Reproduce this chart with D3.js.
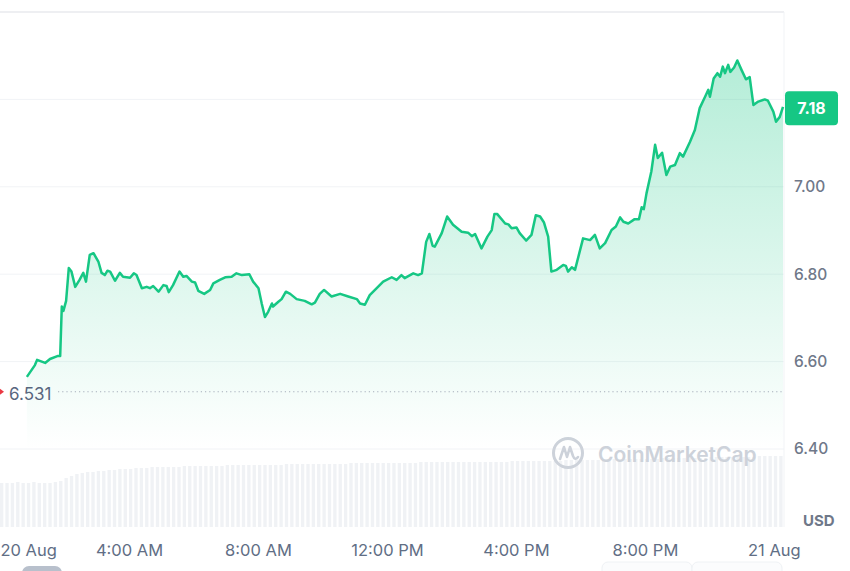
<!DOCTYPE html>
<html>
<head>
<meta charset="utf-8">
<style>
  body { margin: 0; background: #fff; overflow: hidden; }
  #chart text { font-family: Inter, "Noto Sans", sans-serif; }
</style>
<script src="https://cdn.jsdelivr.net/npm/d3@7"></script>
</head>
<body>
<svg id="chart"></svg>
<script>
// minutes after 20 Aug 00:00
var priceMinutes = [50, 65, 69, 84, 93, 108, 112, 115, 118, 123, 128, 133, 140, 148, 155, 160, 167, 174, 183, 189,
  195, 200, 205, 214, 223, 229, 242, 249, 254, 264, 273, 279, 285, 295, 304, 310, 314, 322, 334, 341,
  347, 357, 363, 369, 380, 391, 397, 409, 419, 431, 440, 450, 464, 471, 481, 487, 493, 499, 506, 508,
  518, 524, 532, 540, 552, 567, 580, 586, 595, 603, 617, 633, 648, 664, 670, 679, 688, 701, 713, 729,
  738, 747, 753, 769, 778, 785, 793, 799, 805, 809, 822, 832, 843, 859, 871, 878, 884, 896, 907, 915,
  920, 925, 940, 946, 952, 961, 967, 979, 989, 997, 1005, 1012, 1020, 1026, 1036, 1048, 1053, 1057, 1064, 1070,
  1085, 1098, 1107, 1116, 1126, 1138, 1146, 1154, 1160, 1169, 1181, 1189, 1194, 1198, 1203, 1212, 1219, 1224, 1232, 1240,
  1247, 1256, 1265, 1271, 1284, 1293, 1302, 1312, 1318, 1321, 1328, 1335, 1340, 1345, 1349, 1355, 1359, 1366, 1372, 1380,
  1388, 1395, 1402, 1411, 1423, 1429, 1439, 1444, 1451, 1457];
var prices = [6.565, 6.592, 6.604, 6.597, 6.606, 6.613, 6.613, 6.726, 6.716, 6.739, 6.814, 6.806, 6.771, 6.787, 6.803, 6.783, 6.844, 6.848, 6.829, 6.803,
  6.798, 6.808, 6.806, 6.785, 6.803, 6.794, 6.792, 6.802, 6.798, 6.768, 6.771, 6.768, 6.773, 6.760, 6.775, 6.773, 6.759, 6.775, 6.806, 6.794,
  6.796, 6.783, 6.781, 6.762, 6.755, 6.764, 6.779, 6.787, 6.793, 6.794, 6.802, 6.798, 6.800, 6.783, 6.768, 6.733, 6.702, 6.714, 6.733, 6.726,
  6.737, 6.743, 6.760, 6.755, 6.743, 6.739, 6.731, 6.735, 6.755, 6.764, 6.749, 6.755, 6.749, 6.743, 6.733, 6.730, 6.752, 6.768, 6.783, 6.793,
  6.787, 6.798, 6.791, 6.802, 6.798, 6.802, 6.874, 6.892, 6.865, 6.863, 6.894, 6.932, 6.913, 6.897, 6.895, 6.887, 6.892, 6.859, 6.886, 6.901,
  6.938, 6.938, 6.916, 6.914, 6.905, 6.907, 6.894, 6.877, 6.890, 6.935, 6.932, 6.919, 6.886, 6.806, 6.810, 6.821, 6.819, 6.806, 6.816, 6.810,
  6.882, 6.878, 6.890, 6.859, 6.871, 6.901, 6.909, 6.930, 6.920, 6.916, 6.926, 6.926, 6.953, 6.949, 6.985, 7.035, 7.096, 7.066, 7.078, 7.027,
  7.046, 7.050, 7.077, 7.069, 7.103, 7.130, 7.180, 7.206, 7.222, 7.206, 7.248, 7.260, 7.252, 7.275, 7.260, 7.279, 7.263, 7.273, 7.289, 7.267,
  7.246, 7.251, 7.187, 7.195, 7.200, 7.197, 7.172, 7.149, 7.160, 7.183];

// volume, one bar every 10 minutes from 00:00
var volumeStep = 10;
var volumes = [4.4, 4.4, 4.4, 4.5, 4.4, 4.4, 4.5, 4.4, 4.4, 4.4, 4.5,
  4.6, 4.9, 5.1, 5.3, 5.4, 5.5, 5.5, 5.6, 5.6,
  5.7, 5.7, 5.8, 5.8, 5.8, 5.9, 5.9, 5.9, 6.0, 6.0,
  6.0, 6.0, 6.0, 6.0, 6.1, 6.1, 6.1, 6.1, 6.1, 6.1,
  6.1, 6.1, 6.2, 6.2, 6.2, 6.2, 6.2, 6.2, 6.2, 6.2, 6.2, 6.2, 6.2, 6.3, 6.3, 6.3, 6.3, 6.3, 6.3, 6.3,
  6.3, 6.3, 6.3, 6.3, 6.3, 6.4, 6.4, 6.4, 6.4, 6.4, 6.4, 6.4, 6.4, 6.4, 6.4, 6.4, 6.4, 6.4, 6.5, 6.5,
  6.5, 6.5, 6.5, 6.5, 6.5, 6.5, 6.5, 6.5, 6.5, 6.5, 6.5, 6.5, 6.5, 6.5, 6.5, 6.6, 6.6, 6.6, 6.6, 6.6,
  6.6, 6.6, 6.6, 6.6, 6.6, 6.7, 6.7, 6.7, 6.7, 6.7, 6.7, 6.7, 6.7, 6.8, 6.8, 6.8, 6.8, 6.8, 6.8, 6.8,
  6.8, 6.8, 6.8, 6.9, 6.9, 6.9, 6.9, 6.9, 6.9, 6.9, 6.9, 6.9, 7.0, 7.0, 7.0, 7.0, 7.0, 7.0, 7.0, 7.0,
  7.0, 7.1, 7.1, 7.1, 7.1, 7.1];

var yTicks = [6.40, 6.60, 6.80, 7.00, 7.20, 7.40];
var yLabels = [6.40, 6.60, 6.80, 7.00];
var xTickMinutes = [0, 240, 480, 720, 960, 1200, 1440];
var xTickLabels = ["20 Aug", "4:00 AM", "8:00 AM", "12:00 PM", "4:00 PM", "8:00 PM", "21 Aug"];
var openPrice = 6.531;
var lastPrice = 7.18;

var width = 850, height = 571;
var plotRight = 784, plotTop = 12, priceBottom = 449, volBottom = 527;
var green = "#16c784";

var svg = d3.select("#chart").attr("width", width).attr("height", height);

var x = d3.scaleLinear().domain([0, 1457]).range([0, 783]);
var y = d3.scaleLinear().domain([6.40, 7.40]).range([priceBottom, plotTop]);
var yVol = d3.scaleLinear().domain([0, 10]).range([volBottom, volBottom - 100]);

var data = priceMinutes.map(function(m, i) { return { m: m, p: prices[i] }; });

// gradient for the area
var grad = svg.append("defs").append("linearGradient")
    .attr("id", "fade")
    .attr("gradientUnits", "userSpaceOnUse")
    .attr("x1", 0).attr("x2", 0)
    .attr("y1", y(d3.max(prices))).attr("y2", priceBottom);
grad.append("stop").attr("offset", 0).attr("stop-color", green).attr("stop-opacity", 0.32);
grad.append("stop").attr("offset", 1).attr("stop-color", green).attr("stop-opacity", 0.0);

// grid lines
svg.append("g").selectAll("line")
    .data(yTicks)
  .enter().append("line")
    .attr("x1", 0).attr("x2", plotRight)
    .attr("y1", function(d) { return y(d); })
    .attr("y2", function(d) { return y(d); })
    .attr("stroke", function(d) { return d === 7.40 ? "#e8eaee" : "#f1f3f6"; })
    .attr("stroke-width", function(d) { return d === 7.40 ? 1.5 : 1; });

svg.append("line")
    .attr("x1", plotRight).attr("x2", plotRight)
    .attr("y1", plotTop).attr("y2", volBottom)
    .attr("stroke", "#f1f3f6");

// volume bars
var band = x(volumeStep) - x(0);
svg.append("g").selectAll("rect")
    .data(volumes)
  .enter().append("rect")
    .attr("x", function(d, i) { return x(i * volumeStep); })
    .attr("y", function(d) { return yVol(d); })
    .attr("width", band * 0.62)
    .attr("height", function(d) { return volBottom - yVol(d); })
    .attr("fill", "#f0f2f5");

// watermark
var wm = svg.append("g").attr("transform", "translate(568,453)").attr("fill", "none").attr("stroke", "#cdd2da");
wm.append("circle").attr("r", 14.5).attr("stroke-width", 3);
wm.append("path")
    .attr("d", "M-8,6 L-4,-6 L-1,4 L2,-6 L5,3 Q7,8 10,4")
    .attr("stroke-width", 2.6).attr("stroke-linejoin", "round").attr("stroke-linecap", "round");
svg.append("text")
    .attr("x", 598).attr("y", 462)
    .attr("fill", "#cdd2da")
    .style("font-size", "21px").style("font-weight", 600)
    .text("CoinMarketCap");

// area + line
svg.append("path")
    .datum(data)
    .attr("fill", "url(#fade)")
    .attr("d", d3.area()
        .x(function(d) { return x(d.m); })
        .y0(priceBottom)
        .y1(function(d) { return y(d.p); }));

svg.append("path")
    .datum(data)
    .attr("fill", "none")
    .attr("stroke", green)
    .attr("stroke-width", 2.5)
    .attr("stroke-linejoin", "round")
    .attr("d", d3.line()
        .x(function(d) { return x(d.m); })
        .y(function(d) { return y(d.p); }));

// open price reference
svg.append("line")
    .attr("x1", 58).attr("x2", plotRight)
    .attr("y1", y(openPrice)).attr("y2", y(openPrice))
    .attr("stroke", "#a6aebb")
    .attr("stroke-width", 1.2)
    .attr("stroke-dasharray", "1.2,3");
svg.append("path")
    .attr("d", "M0," + (y(openPrice) - 3) + " L4," + y(openPrice) + " L0," + (y(openPrice) + 3) + "Z")
    .attr("fill", "#ea3943");
svg.append("text")
    .attr("x", 9).attr("y", y(openPrice) + 8)
    .attr("fill", "#58667e")
    .style("font-size", "17px")
    .text(d3.format(".3f")(openPrice));

// right axis
var yAxis = svg.append("g")
    .attr("transform", "translate(794,0)")
    .call(d3.axisRight(y).tickValues(yLabels).tickFormat(d3.format(".2f")).tickSize(0).tickPadding(0));
yAxis.select(".domain").remove();
yAxis.selectAll("text")
    .attr("fill", "#6f7889")
    .style("font-size", "15.5px")
    .style("font-weight", 500);

svg.append("text")
    .attr("x", 803).attr("y", 526)
    .attr("fill", "#6f7889")
    .style("font-size", "15px").style("font-weight", 700)
    .text("USD");

// last price badge
var badge = svg.append("g").attr("transform", "translate(785," + y(lastPrice) + ")");
badge.append("rect")
    .attr("x", 0).attr("y", -17).attr("width", 53).attr("height", 34).attr("rx", 4)
    .attr("fill", green);
badge.append("text")
    .attr("x", 26.5).attr("y", 6)
    .attr("text-anchor", "middle")
    .attr("fill", "#fff")
    .style("font-size", "16px").style("font-weight", 700)
    .text(d3.format(".2f")(lastPrice));

// bottom axis
var xAxis = svg.append("g")
    .attr("transform", "translate(0,556)")
    .call(d3.axisBottom(x).tickValues(xTickMinutes)
        .tickFormat(function(d, i) { return xTickLabels[i]; })
        .tickSize(0).tickPadding(0));
xAxis.select(".domain").remove();
xAxis.selectAll("text")
    .attr("dy", 0)
    .attr("fill", "#616e85")
    .style("font-size", "16.5px");
xAxis.selectAll("text").filter(function(d) { return d === 0; })
    .attr("text-anchor", "start");

// partial controls under the chart
svg.append("rect").attr("x", 22).attr("y", 566).attr("width", 40).attr("height", 14).attr("rx", 7)
    .attr("fill", "#b8c0cc");
svg.append("rect").attr("x", 602).attr("y", 562).attr("width", 90).attr("height", 20).attr("rx", 6)
    .attr("fill", "#fbfcfd").attr("stroke", "#eff2f5");
svg.append("rect").attr("x", 692).attr("y", 562).attr("width", 90).attr("height", 20).attr("rx", 6)
    .attr("fill", "#fbfcfd").attr("stroke", "#eff2f5");
</script>
</body>
</html>
